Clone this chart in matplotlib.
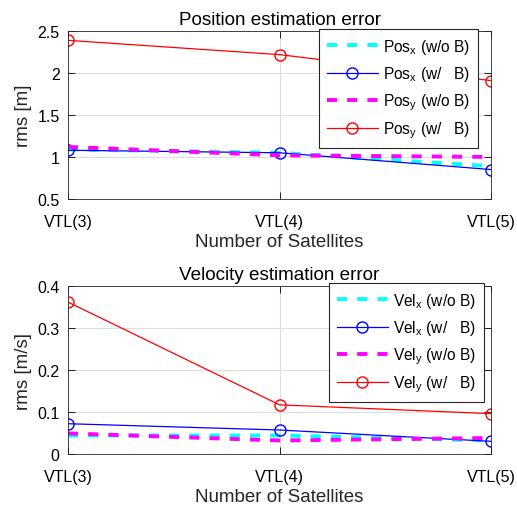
import numpy as np
import matplotlib
matplotlib.use("Agg")
import matplotlib.pyplot as plt

plt.rcParams['font.family'] = ['Liberation Sans', 'DejaVu Sans']
plt.rcParams['mathtext.fontset'] = 'custom'
plt.rcParams['mathtext.rm'] = 'Liberation Sans'
plt.rcParams['mathtext.it'] = 'Liberation Sans'
plt.rcParams['mathtext.default'] = 'regular'

# data
satellites = ['VTL(3)', 'VTL(4)', 'VTL(5)']

pos_x_wo = [1.09, 1.05, 0.89]
pos_x_w = [1.08, 1.05, 0.85]
pos_y_wo = [1.12, 1.02, 1.00]
pos_y_w = [2.39, 2.22, 1.91]

vel_x_wo = [0.044, 0.044, 0.032]
vel_x_w = [0.072, 0.057, 0.030]
vel_y_wo = [0.049, 0.032, 0.038]
vel_y_w = [0.362, 0.117, 0.096]


def draw_panel(ax, name, xwo, xw, ywo, yw, title, ylabel, ylim, yticks, yticklabels, leg_anchor):
    x = np.arange(len(satellites))
    ax.plot(x, xwo, '--', color='cyan', lw=2.8, dashes=(2.6, 2.6), label=name + '$_x$ (w/o B)')
    ax.plot(x, xw, '-o', color='blue', lw=0.9, ms=8, mfc='none', mew=1.0, label=name + '$_x$ (w/   B)')
    ax.plot(x, ywo, '--', color='magenta', lw=2.8, dashes=(2.6, 2.6), label=name + '$_y$ (w/o B)')
    ax.plot(x, yw, '-o', color='red', lw=0.9, ms=8, mfc='none', mew=1.0, label=name + '$_y$ (w/   B)')

    ax.set_xlim(0, 2)
    ax.set_ylim(*ylim)
    ax.set_xticks(x)
    ax.set_xticklabels(satellites)
    ax.set_yticks(yticks)
    ax.set_yticklabels(yticklabels)
    ax.tick_params(direction='in', top=True, right=True, labelsize=11.5, length=5, width=0.6)
    ax.tick_params(axis='x', pad=11)
    ax.tick_params(axis='y', pad=6)
    ax.grid(True, color='#dedede', lw=0.8)
    ax.set_axisbelow(True)
    for s in ax.spines.values():
        s.set_linewidth(0.6)
        s.set_color('#262626')
    ax.set_title(title, fontsize=13.6, pad=5)
    ax.set_xlabel('Number of Satellites', fontsize=13.5, color='#262626', labelpad=3)
    ax.set_ylabel(ylabel, fontsize=13.5, color='#262626', labelpad=4)
    leg = ax.legend(loc='upper right', bbox_to_anchor=leg_anchor, fontsize=11.2,
                    handlelength=3.25, handletextpad=0.35, framealpha=1, fancybox=False,
                    edgecolor='#262626', borderaxespad=0.0, labelspacing=0.52, borderpad=0.5)
    leg.get_frame().set_linewidth(0.8)


fig = plt.figure(figsize=(5.17, 5.10), dpi=100)
ax1 = fig.add_axes([0.1315, 0.608, 0.8185, 0.329])
ax2 = fig.add_axes([0.1315, 0.108, 0.8185, 0.329])

draw_panel(ax1, 'Pos', pos_x_wo, pos_x_w, pos_y_wo, pos_y_w,
           'Position estimation error', 'rms [m]', (0.5, 2.5),
           [0.5, 1, 1.5, 2, 2.5], ['0.5', '1', '1.5', '2', '2.5'], (0.969, 1.012))
draw_panel(ax2, 'Vel', vel_x_wo, vel_x_w, vel_y_wo, vel_y_w,
           'Velocity estimation error', 'rms [m/s]', (0, 0.4),
           [0, 0.1, 0.2, 0.3, 0.4], ['0', '0.1', '0.2', '0.3', '0.4'], (0.983, 1.018))

fig.savefig('out.png', dpi=100)
